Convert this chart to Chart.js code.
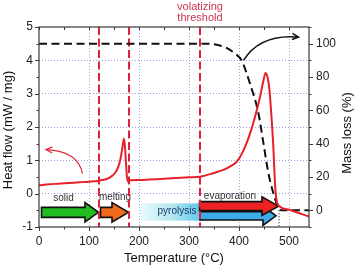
<!DOCTYPE html>
<html><head><meta charset="utf-8">
<script src="https://cdn.jsdelivr.net/npm/chart.js@4/dist/chart.umd.min.js"></script>
<style>html,body{margin:0;padding:0;background:#fff}#wrap{width:356px;height:266px}</style>
</head><body><div id="wrap"><canvas id="c" width="356" height="266"></canvas></div>
<script>
// ---- data ----
const temperature = [0, 20, 40, 60, 80, 100, 120, 135, 145, 152, 158, 163, 166, 168, 170, 172, 174, 176, 178, 182, 200, 250, 300, 322, 350, 370, 385, 395, 409, 422, 432, 442, 449, 453, 457, 461, 465, 469, 472, 475, 482, 502, 540];
const heatFlow    = [0.25, 0.28, 0.30, 0.32, 0.34, 0.36, 0.39, 0.44, 0.52, 0.62, 0.78, 1.05, 1.3, 1.5, 1.65, 1.4, 0.9, 0.5, 0.36, 0.4, 0.41, 0.45, 0.49, 0.51, 0.62, 0.72, 0.84, 0.95, 1.3, 1.8, 2.3, 2.9, 3.4, 3.62, 3.5, 3.1, 2.3, 1.3, 0.3, -0.19, -0.39, -0.49, -0.69];
const massTemperature = [0, 330, 345, 360, 375, 390, 405, 422, 439, 449, 459, 469, 479, 485, 540];
const massLoss        = [100, 100, 99.8, 99, 97.5, 94.5, 90, 76, 58, 40, 22, 10, 1.2, 0, 0];
const xTickLabels = [0, 100, 200, 300, 400, 500];
const heatFlowTickLabels = [-1, 0, 1, 2, 3, 4, 5];
const massTickLabels = [0, 20, 40, 60, 80, 100];
const phaseBoundaries = [120, 180, 322];           // red dashed lines (°C)
const volatizingLabel = ['volatizing', 'threshold'];
const phaseNames = ['solid', 'melting', 'pyrolysis', 'evaporation'];
const phaseLabelAt = [[49, -0.13], [152, -0.10], [276, -0.52], [382, -0.08]]; // [°C, mW/mg]
// arrows: [fromT, toT, headStartT, centre hf, shaft half-height, head half-height]
const solidArrow = [5, 119, 92, -0.56, 0.15, 0.29];
const meltArrow = [123, 179, 146, -0.56, 0.15, 0.29];
const pyroBox = [202, 325, -0.29, -0.81];
const pyroArrow = [322, 474, 448, -0.665, 0.125, 0.29];
const evapArrow = [321, 479, 446, -0.375, 0.135, 0.28];
const endTemperature = 480;
// pointer curves: start, control, end  ([°C, value])
const heatPointer = [[87, 0.60], [78, 1.28], [14, 1.32]];       // heat-flow units
const massPointer = [[409, 90], [442, 106], [519, 104]];        // mass units

const FONT = '"Liberation Sans", Arial, sans-serif';
const GRID = 'rgba(120,132,215,0.75)';

const annot = {
  id: 'annot',
  beforeDatasetsDraw(chart) {
    const {ctx, chartArea: a} = chart;
    const xs = chart.scales.x, ys = chart.scales.y, y2 = chart.scales.y2;
    const X = v => xs.getPixelForValue(v), Y = v => ys.getPixelForValue(v);
    ctx.save();
    // pyrolysis gradient box
    const bx0 = X(pyroBox[0]), bx1 = X(pyroBox[1]);
    const g = ctx.createLinearGradient(bx0, 0, bx1, 0);
    g.addColorStop(0, 'rgba(235,250,252,1)');
    g.addColorStop(0.5, '#b6e8f3');
    g.addColorStop(1, '#5fc7e8');
    ctx.fillStyle = g;
    ctx.fillRect(bx0, Y(pyroBox[2]), bx1 - bx0, Y(pyroBox[3]) - Y(pyroBox[2]));
    function arrow(spec, color) {
      const [f, t, h, c, sh, hh] = spec;
      const yc = Y(c), s = Y(c - sh) - yc, hd = Y(c - hh) - yc;
      ctx.beginPath();
      ctx.moveTo(X(f), yc - s); ctx.lineTo(X(h), yc - s); ctx.lineTo(X(h), yc - hd);
      ctx.lineTo(X(t), yc); ctx.lineTo(X(h), yc + hd); ctx.lineTo(X(h), yc + s);
      ctx.lineTo(X(f), yc + s); ctx.closePath();
      ctx.fillStyle = color; ctx.fill();
      ctx.lineWidth = 1.6; ctx.strokeStyle = '#111'; ctx.lineJoin = 'miter'; ctx.stroke();
    }
    arrow(solidArrow, '#22bb22');
    arrow(meltArrow, '#f06a1e');
    arrow(pyroArrow, '#3dabe8');
    arrow(evapArrow, '#ee2222');
    // phase texts
    ctx.font = '10px ' + FONT; ctx.textAlign = 'center'; ctx.textBaseline = 'middle';
    phaseNames.forEach((n, i) => {
      ctx.fillStyle = i === 2 ? '#1d3a66' : '#333';
      ctx.fillText(n, X(phaseLabelAt[i][0]), Y(phaseLabelAt[i][1]));
    });
    // red dashed phase lines
    ctx.strokeStyle = '#dd2240'; ctx.lineWidth = 2; ctx.setLineDash([8, 3.5]);
    phaseBoundaries.forEach(t => {
      ctx.beginPath(); ctx.moveTo(X(t), a.top); ctx.lineTo(X(t), a.bottom); ctx.stroke();
    });
    // dotted end marker
    ctx.strokeStyle = '#222'; ctx.lineWidth = 1.2; ctx.setLineDash([1, 2]);
    ctx.beginPath(); ctx.moveTo(X(endTemperature), y2.getPixelForValue(0)); ctx.lineTo(X(endTemperature), a.bottom); ctx.stroke();
    ctx.setLineDash([]);
    ctx.restore();
  },
  afterDraw(chart) {
    const {ctx, chartArea: a} = chart;
    const xs = chart.scales.x, ys = chart.scales.y, y2 = chart.scales.y2;
    const X = v => xs.getPixelForValue(v);
    ctx.save();
    // frame
    ctx.strokeStyle = '#3a3a3a'; ctx.lineWidth = 1.2;
    ctx.strokeRect(a.left, a.top, a.right - a.left, a.bottom - a.top);
    // ticks
    ctx.lineWidth = 1;
    ctx.beginPath();
    for (let t = 0; t <= 540; t += 50) {
      const px = Math.round(X(t)) + 0.5, L = t % 100 === 0 ? 4 : 2.5;
      ctx.moveTo(px, a.bottom); ctx.lineTo(px, a.bottom + L);
      ctx.moveTo(px, a.top); ctx.lineTo(px, a.top + 3);
    }
    for (let v = -1; v <= 5; v += 0.5) {
      const py = Math.round(ys.getPixelForValue(v)) + 0.5, L = Number.isInteger(v) ? 4 : 2.5;
      ctx.moveTo(a.left, py); ctx.lineTo(a.left - L, py);
    }
    for (let v = -10; v <= 110; v += 10) {
      const py = Math.round(y2.getPixelForValue(v)) + 0.5, L = v % 20 === 0 ? 4 : 2.5;
      ctx.moveTo(a.right, py); ctx.lineTo(a.right + L, py);
    }
    ctx.stroke();
    // pointer curves
    function pointer(pts, scale, color, w) {
      const P = pts.map(p => [X(p[0]), scale.getPixelForValue(p[1])]);
      ctx.strokeStyle = color; ctx.fillStyle = color; ctx.lineWidth = w;
      ctx.beginPath(); ctx.moveTo(P[0][0], P[0][1]);
      ctx.quadraticCurveTo(P[1][0], P[1][1], P[2][0], P[2][1]); ctx.stroke();
      const ang = Math.atan2(P[2][1] - P[1][1], P[2][0] - P[1][0]);
      const L = 7, W = 0.45;
      ctx.beginPath();
      ctx.moveTo(P[2][0] - L * Math.cos(ang - W), P[2][1] - L * Math.sin(ang - W));
      ctx.lineTo(P[2][0], P[2][1]);
      ctx.lineTo(P[2][0] - L * Math.cos(ang + W), P[2][1] - L * Math.sin(ang + W));
      ctx.stroke();
    }
    pointer(heatPointer, ys, '#e0303e', 1.3);
    pointer(massPointer, y2, '#111', 1.5);
    // axis titles
    ctx.fillStyle = '#111'; ctx.font = '13px ' + FONT;
    ctx.textAlign = 'center'; ctx.textBaseline = 'middle';
    ctx.fillText('Temperature (°C)', 174, 258);
    ctx.save(); ctx.translate(8, 130); ctx.rotate(-Math.PI / 2);
    ctx.fillText('Heat flow (mW / mg)', 0, 0); ctx.restore();
    ctx.save(); ctx.translate(347, 133); ctx.rotate(-Math.PI / 2);
    ctx.fillText('Mass loss (%)', 0, 0); ctx.restore();
    // volatizing threshold
    ctx.fillStyle = '#cc3355'; ctx.font = '11px ' + FONT;
    ctx.fillText(volatizingLabel[0], X(phaseBoundaries[2]), 7);
    ctx.fillText(volatizingLabel[1], X(phaseBoundaries[2]), 18);
    ctx.restore();
  }
};

new Chart(document.getElementById('c'), {
  type: 'line',
  data: {
    datasets: [
      { label: 'Heat flow', data: temperature.map((t, i) => ({x: t, y: heatFlow[i]})),
        yAxisID: 'y', borderColor: '#e8202a', borderWidth: 2, pointRadius: 0,
        cubicInterpolationMode: 'monotone', fill: false },
      { label: 'Mass loss', data: massTemperature.map((t, i) => ({x: t, y: massLoss[i]})),
        yAxisID: 'y2', borderColor: '#111', borderWidth: 2, borderDash: [8, 4.5], pointRadius: 0,
        cubicInterpolationMode: 'monotone', fill: false }
    ]
  },
  options: {
    responsive: false, animation: false, events: [],
    layout: { padding: { top: 27, left: 0, right: 0, bottom: 0 } },
    plugins: { legend: { display: false }, tooltip: { enabled: false } },
    scales: {
      x: {
        type: 'linear', min: 0, max: 540, position: 'bottom',
        afterFit: s => { s.height = 39; },
        border: { display: false, dash: [1, 2] },
        grid: { drawTicks: false, lineWidth: 1,
          color: c => (c.tick && c.tick.value % 100 === 0 && c.tick.value > 0 && c.tick.value < 540) ? GRID : 'rgba(0,0,0,0)' },
        ticks: { stepSize: 50, autoSkip: false, includeBounds: false, maxRotation: 0, padding: 7, color: '#222',
          font: { family: FONT, size: 12 },
          callback: v => xTickLabels.includes(v) ? String(v) : '' }
      },
      y: {
        type: 'linear', min: -1, max: 5, position: 'left',
        afterFit: s => { s.width = 39; },
        border: { display: false, dash: [1, 2] },
        grid: { drawTicks: false, lineWidth: 1,
          color: c => (c.tick && Number.isInteger(c.tick.value) && c.tick.value > -1 && c.tick.value < 5) ? GRID : 'rgba(0,0,0,0)' },
        ticks: { stepSize: 0.5, autoSkip: false, includeBounds: false, padding: 6, color: '#222',
          font: { family: FONT, size: 12 },
          callback: v => heatFlowTickLabels.includes(v) ? String(v) : '' }
      },
      y2: {
        type: 'linear', min: -10, max: 110, position: 'right',
        afterFit: s => { s.width = 47; },
        border: { display: false },
        grid: { drawTicks: false, drawOnChartArea: false },
        ticks: { stepSize: 10, autoSkip: false, includeBounds: false, padding: 7, color: '#222',
          font: { family: FONT, size: 12 },
          callback: v => massTickLabels.includes(v) ? String(v) : '' }
      }
    }
  },
  plugins: [annot]
});
</script></body></html>
